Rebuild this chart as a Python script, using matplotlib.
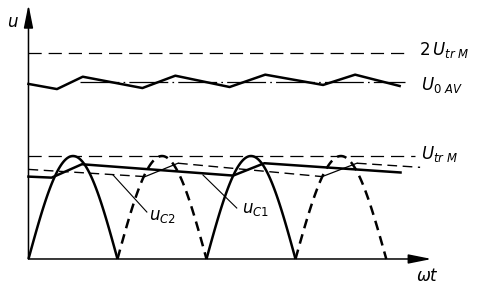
import matplotlib.pyplot as plt
import numpy as np

plt.rcParams['lines.scale_dashes'] = False
plt.rcParams['mathtext.fontset'] = 'dejavusans'

# x in units of pi (wt/pi), y in units of U_trM
arch_zeros = [0.0, 1.0, 2.0, 3.0, 4.02]
arch_peak = 1.0
u_2trm = 2.0
u_0av = 1.72

# output voltage ripple (corner points)
ripple_x = [0.0, 0.32, 0.61, 1.28, 1.65, 2.26, 2.66, 3.31, 3.67, 4.17]
ripple_y = [1.70, 1.65, 1.77, 1.66, 1.78, 1.67, 1.79, 1.69, 1.79, 1.68]

# capacitor voltages
uc1_x = [0.0, 0.26, 0.60, 2.30, 2.65, 4.18]
uc1_y = [0.80, 0.79, 0.92, 0.81, 0.93, 0.84]
uc2_x = [0.0, 1.31, 1.68, 3.30, 3.69, 4.40]
uc2_y = [0.87, 0.80, 0.93, 0.80, 0.93, 0.89]

fig = plt.figure(figsize=(4.8, 2.87), dpi=100)
ax = fig.add_axes([0, 0, 1, 1])
ax.set_xlim(-0.32, 5.073)
ax.set_ylim(-0.272, 2.515)
ax.axis('off')

# axes with arrows
arr = dict(arrowstyle='-|>,head_length=1.4,head_width=0.28', lw=1.1,
           color='k', shrinkA=0, shrinkB=0)
ax.annotate('', xy=(0, 2.47), xytext=(0, 0), arrowprops=arr)
ax.annotate('', xy=(4.53, 0), xytext=(0, 0), arrowprops=arr)

# reference levels
ax.plot([0, 4.29], [u_2trm, u_2trm], color='k', lw=0.9, ls=(0, (9.5, 5)))
ax.plot([0, 4.34], [arch_peak, arch_peak], color='k', lw=0.9, ls=(0, (9.5, 5)))
ax.plot([0.58, 4.23], [u_0av, u_0av], color='k', lw=0.9,
        ls=(0, (28, 3, 1.2, 3)))

# rectified transformer voltage, half waves
for i in range(len(arch_zeros) - 1):
    a, b = arch_zeros[i], arch_zeros[i + 1]
    t = np.linspace(a, b, 120)
    u = arch_peak * np.sin(np.pi * (t - a) / (b - a))
    if i % 2 == 0:
        ax.plot(t, u, color='k', lw=1.8, solid_capstyle='butt')
    else:
        ax.plot(t, u, color='k', lw=1.8, ls=(0, (7, 4.5)))

# output voltage
ax.plot(ripple_x, ripple_y, color='k', lw=1.8)

# u_C1
ax.plot(uc1_x, uc1_y, color='k', lw=1.8)

# u_C2: discharge dashed, charge thin solid
for j in range(len(uc2_x) - 1):
    seg_x = uc2_x[j:j + 2]
    seg_y = uc2_y[j:j + 2]
    if j % 2 == 0:
        ax.plot(seg_x, seg_y, color='k', lw=1.0, ls=(0, (7, 4)))
    else:
        ax.plot(seg_x, seg_y, color='k', lw=0.9)

# pointer lines
ax.plot([1.33, 0.95], [0.456, 0.816], color='k', lw=0.8)
ax.plot([2.34, 1.96], [0.495, 0.816], color='k', lw=0.8)

fs = 12
ax.text(-0.17, 2.30, r'$u$', fontsize=fs, ha='center', va='center')
ax.text(4.39, 2.03, r'$2\,U_{tr\ M}$', fontsize=fs, ha='left', va='center')
ax.text(4.41, 1.69, r'$U_{0\ AV}$', fontsize=fs, ha='left', va='center')
ax.text(4.41, 1.02, r'$U_{tr\ M}$', fontsize=fs, ha='left', va='center')
ax.text(4.35, -0.165, r'$\omega t$', fontsize=fs, ha='left', va='center')
ax.text(1.35, 0.42, r'$u_{C2}$', fontsize=fs, ha='left', va='center')
ax.text(2.40, 0.49, r'$u_{C1}$', fontsize=fs, ha='left', va='center')

fig.savefig('out.png', dpi=100)
